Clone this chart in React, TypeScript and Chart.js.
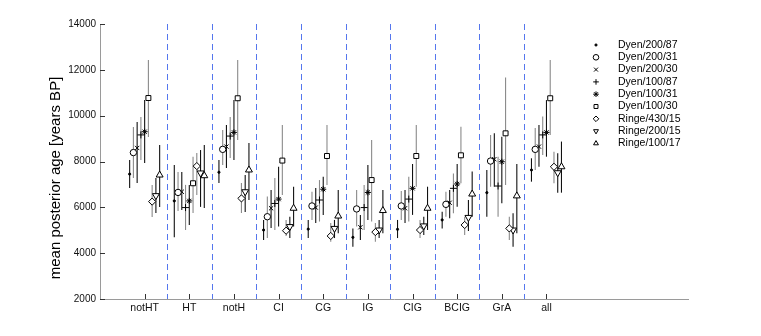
import React, { useEffect, useRef } from 'react';
import { Chart, registerables } from 'chart.js';
import { drawPoint } from 'chart.js/helpers';

Chart.register(...registerables);

const categories = ['notHT', 'HT', 'notH', 'CI', 'CG', 'IG', 'CIG', 'BCIG', 'GrA', 'all'];
const seriesNames = ['Dyen/200/87', 'Dyen/200/31', 'Dyen/200/30', 'Dyen/100/87', 'Dyen/100/31', 'Dyen/100/30', 'Ringe/430/15', 'Ringe/200/15', 'Ringe/100/17'];

const means = [
  [7450, 6280, 7530, 5010, 5050, 4690, 5040, 5450, 6640, 7630],
  [8390, 6650, 8530, 5590, 6060, 5930, 6060, 6130, 8020, 8530],
  [8590, 6680, 8650, 5960, 5990, 5130, 5960, 6200, 8100, 8650],
  [9160, 5990, 9110, 6170, 6320, 5990, 6360, 6830, 6930, 9160],
  [9300, 6280, 9270, 6360, 6790, 6650, 6830, 7020, 7990, 9270],
  [10770, 7050, 10760, 8040, 8240, 7190, 8240, 8270, 9230, 10760],
  [6250, 7800, 6390, 4980, 4750, 4920, 5010, 5230, 5080, 7770],
  [6510, 7500, 6680, 5160, 5080, 5010, 5190, 5560, 5010, 7510],
  [7410, 7380, 7630, 5960, 5620, 5860, 5960, 6580, 6500, 7770],
];
const lows = [
  [6840, 4700, 7060, 4580, 4660, 4280, 4660, 5080, 5590, 7120],
  [7280, 5840, 7850, 4660, 5450, 5160, 5450, 5590, 6900, 7630],
  [7060, 5880, 7720, 5100, 5320, 4580, 5320, 5520, 6900, 7770],
  [8070, 5010, 8150, 5010, 5380, 5010, 5380, 5740, 5590, 8280],
  [7940, 5230, 8070, 5160, 5670, 5450, 5670, 6030, 6180, 8210],
  [9070, 5750, 8940, 6540, 6980, 5380, 6900, 7050, 6980, 9160],
  [5580, 6540, 5750, 4750, 4500, 4500, 4660, 4790, 4580, 7050],
  [5750, 6020, 5800, 4660, 4660, 4660, 4790, 4970, 4280, 6640],
  [6020, 5970, 6320, 5160, 4870, 4870, 5010, 5590, 4870, 6640],
];
const highs = [
  [8070, 7850, 8070, 5450, 5450, 5080, 5450, 5810, 7630, 8140],
  [9510, 7540, 9380, 6470, 6680, 6760, 6710, 6680, 9160, 9460],
  [9720, 7540, 9590, 6760, 6840, 5670, 6760, 6760, 9230, 9590],
  [9940, 6980, 9940, 7280, 7190, 6980, 7340, 7480, 8210, 9960],
  [10680, 6980, 10680, 7770, 7340, 7850, 7890, 7890, 9080, 10680],
  [12430, 8210, 12430, 9590, 9590, 8940, 9590, 9520, 11670, 12430],
  [6980, 8370, 7060, 5450, 5320, 5320, 5450, 5590, 5590, 8430],
  [7280, 8500, 7410, 5590, 5450, 5450, 5590, 6320, 5740, 8360],
  [8720, 8720, 8810, 6900, 6760, 6760, 6900, 7560, 7890, 8870],
];
const yTicks = [2000, 4000, 6000, 8000, 10000, 12000, 14000];

const FONT = "'Liberation Sans', Arial, Helvetica, sans-serif";
const markerStyles: any[] = [
  { pointStyle: 'circle', radius: 1.1, rotation: 0, fill: '#000' },
  { pointStyle: 'circle', radius: 3.2, rotation: 0, fill: '#fff' },
  { pointStyle: 'crossRot', radius: 3, rotation: 0, fill: '#fff' },
  { pointStyle: 'cross', radius: 3.5, rotation: 0, fill: '#fff' },
  { pointStyle: 'star', radius: 3, rotation: 0, fill: '#000' },
  { pointStyle: 'rect', radius: 3.5, rotation: 0, fill: '#fff' },
  { pointStyle: 'rectRot', radius: 3.6, rotation: 0, fill: '#fff' },
  { pointStyle: 'triangle', radius: 4, rotation: 180, fill: '#fff' },
  { pointStyle: 'triangle', radius: 4, rotation: 0, fill: '#fff' },
];
const errColors = ['#111', '#8a8a8a', '#111', '#8a8a8a', '#111', '#8a8a8a', '#8a8a8a', '#111', '#111'];
const STEP = 0.084;
const off = (s: number) => (s - 4) * STEP;

const overlayPlugin = {
  id: 'overlay',
  beforeDatasetsDraw(chart: any) {
    const { ctx, chartArea, scales } = chart;
    const xs = scales.x, ys = scales.y;
    ctx.save();
    ctx.strokeStyle = '#5577ee';
    ctx.lineWidth = 1;
    ctx.setLineDash([6, 4]);
    for (let i = 1; i < categories.length; i++) {
      const px = Math.round(xs.getPixelForValue(i + 0.5)) + 0.5;
      ctx.beginPath();
      ctx.moveTo(px, chartArea.top);
      ctx.lineTo(px, chartArea.bottom);
      ctx.stroke();
    }
    ctx.setLineDash([]);
    ctx.lineWidth = 1.1;
    for (let s = 0; s < seriesNames.length; s++) {
      ctx.strokeStyle = errColors[s];
      for (let g = 0; g < categories.length; g++) {
        const px = xs.getPixelForValue(g + 1 + off(s));
        ctx.beginPath();
        ctx.moveTo(px, ys.getPixelForValue(lows[s][g]));
        ctx.lineTo(px, ys.getPixelForValue(highs[s][g]));
        ctx.stroke();
      }
    }
    ctx.restore();
  },
  afterDraw(chart: any) {
    const { ctx, chartArea, scales } = chart;
    const xs = scales.x, ys = scales.y;
    ctx.save();
    ctx.strokeStyle = '#333';
    ctx.lineWidth = 1;
    for (const v of yTicks) {
      const py = Math.round(ys.getPixelForValue(v)) + 0.5;
      ctx.beginPath();
      ctx.moveTo(chartArea.left, py);
      ctx.lineTo(chartArea.left + 5, py);
      ctx.stroke();
    }
    for (let g = 0; g < categories.length; g++) {
      const px = Math.round(xs.getPixelForValue(g + 1)) + 0.5;
      ctx.beginPath();
      ctx.moveTo(px, chartArea.bottom);
      ctx.lineTo(px, chartArea.bottom - 5);
      ctx.stroke();
    }
    ctx.fillStyle = '#000';
    ctx.font = `15px ${FONT}`;
    ctx.textAlign = 'center';
    ctx.textBaseline = 'middle';
    ctx.translate(56, 178);
    ctx.rotate(-Math.PI / 2);
    ctx.fillText('mean posterior age [years BP]', 0, 0);
    ctx.restore();
    ctx.save();
    ctx.font = `10.5px ${FONT}`;
    ctx.textAlign = 'left';
    ctx.textBaseline = 'middle';
    for (let s = 0; s < seriesNames.length; s++) {
      const y = 45 + s * 12.3;
      const m = markerStyles[s];
      ctx.strokeStyle = '#000';
      ctx.fillStyle = m.fill;
      ctx.lineWidth = 1;
      drawPoint(ctx, { pointStyle: m.pointStyle, radius: Math.min(m.radius, 2.8), rotation: m.rotation, borderWidth: 1 }, 596, y);
      ctx.fillStyle = '#000';
      ctx.fillText(seriesNames[s], 618, y);
    }
    ctx.restore();
  },
};

export default function App() {
  const ref = useRef<HTMLCanvasElement>(null);
  useEffect(() => {
    document.body.style.margin = '0';
    const datasets = seriesNames.map((name, s) => ({
      label: name,
      data: categories.map((_, g) => ({ x: g + 1 + off(s), y: means[s][g] })),
      pointStyle: markerStyles[s].pointStyle,
      pointRadius: markerStyles[s].radius,
      pointRotation: markerStyles[s].rotation,
      pointBorderColor: '#000',
      pointBackgroundColor: markerStyles[s].fill,
      pointBorderWidth: 1,
      showLine: false,
    }));
    const chart = new Chart(ref.current!, {
      type: 'scatter',
      data: { datasets },
      plugins: [overlayPlugin],
      options: {
        animation: false,
        responsive: false,
        devicePixelRatio: 1,
        layout: { padding: { left: 0, top: 24, right: 73, bottom: 0 } },
        plugins: { legend: { display: false }, tooltip: { enabled: false } },
        scales: {
          x: {
            type: 'linear',
            min: 0,
            max: 13.17,
            afterBuildTicks: (s: any) => { s.ticks = categories.map((_, i) => ({ value: i + 1 })); },
            afterFit: (s: any) => { s.height = 37; },
            ticks: {
              autoSkip: false,
              maxRotation: 0,
              padding: 3,
              color: '#111',
              font: { size: 10.5, family: FONT },
              callback: (v: any) => categories[Math.round(v) - 1] ?? '',
            },
            grid: { display: false, drawTicks: false },
            border: { display: true, color: '#9a9a9a', width: 1 },
          },
          y: {
            type: 'linear',
            min: 2000,
            max: 14000,
            afterFit: (s: any) => { s.width = 100; },
            afterBuildTicks: (s: any) => { s.ticks = yTicks.map((v) => ({ value: v })); },
            ticks: {
              padding: 4,
              color: '#111',
              font: { size: 10, family: FONT },
              callback: (v: any) => String(v),
            },
            grid: { display: false, drawTicks: false },
            border: { display: true, color: '#9a9a9a', width: 1 },
          },
        },
      },
    });
    return () => chart.destroy();
  }, []);
  return (
    <div style={{ width: 761, height: 336 }}>
      <canvas ref={ref} width={761} height={336} style={{ display: 'block' }} />
    </div>
  );
}
